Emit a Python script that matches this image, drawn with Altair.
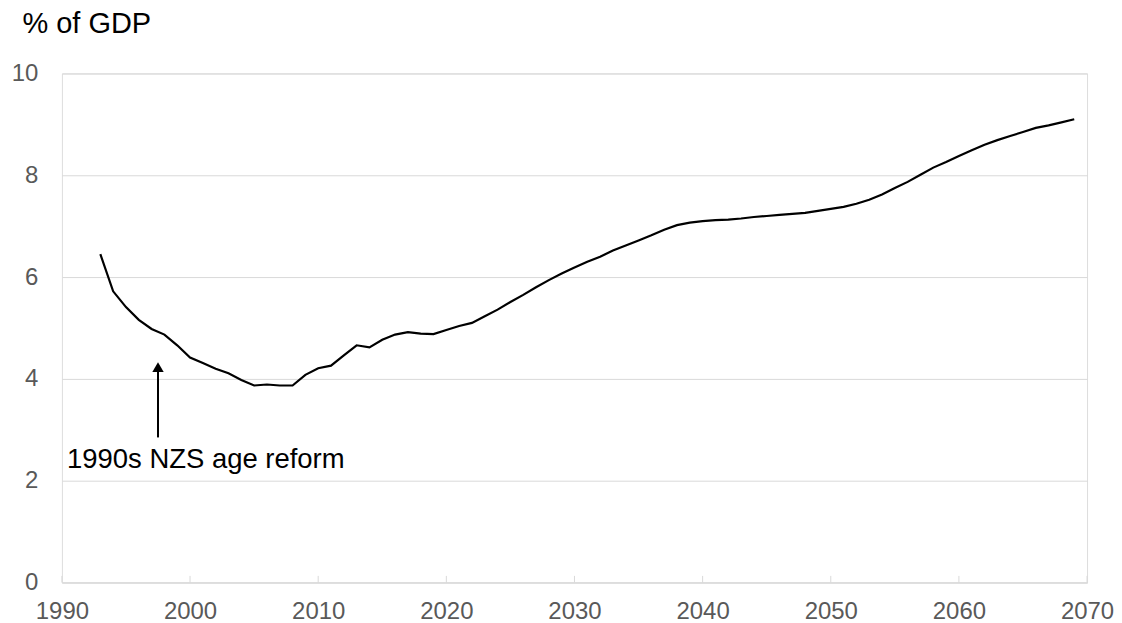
import altair as alt
import pandas as pd

# ---- data ----
years = list(range(1993, 2070))
values = [6.45, 5.72, 5.41, 5.16, 4.98, 4.87, 4.66, 4.42, 4.31, 4.20,
          4.11, 3.98, 3.87, 3.89, 3.87, 3.87, 4.08, 4.21, 4.26, 4.46,
          4.66, 4.62, 4.77, 4.87, 4.92, 4.89, 4.88, 4.96, 5.04, 5.10,
          5.23, 5.36, 5.51, 5.65, 5.80, 5.94, 6.07, 6.19, 6.30, 6.40,
          6.52, 6.62, 6.72, 6.82, 6.93, 7.02, 7.07, 7.10, 7.12, 7.13,
          7.15, 7.18, 7.20, 7.22, 7.24, 7.26, 7.30, 7.34, 7.38, 7.44,
          7.52, 7.62, 7.75, 7.87, 8.01, 8.15, 8.26, 8.38, 8.49, 8.60,
          8.69, 8.77, 8.85, 8.93, 8.98, 9.04, 9.10]
x_ticks = [1990, 2000, 2010, 2020, 2030, 2040, 2050, 2060, 2070]
y_ticks = [0, 2, 4, 6, 8, 10]

annot_text = ["1990s NZS age reform"]
annot_year = [1990.4]
annot_value = [2.24]
arrow_year = [1997.5]
arrow_from = [2.85]
arrow_to = [4.23]

FONT = "Liberation Sans"
GRID = "#d9d9d9"
LABEL = "#595959"

line_df = pd.DataFrame({"year": years, "value": values})
tick_df = pd.DataFrame({"year": x_ticks, "value": [0] * len(x_ticks),
                        "value2": [0.13] * len(x_ticks)})
arrow_df = pd.DataFrame({"year": arrow_year, "value": arrow_from, "value2": arrow_to})
head_df = pd.DataFrame({"year": arrow_year, "value": arrow_to})
text_df = pd.DataFrame({"year": annot_year, "value": annot_value, "label": annot_text})

x_enc = alt.X(
    "year:Q",
    scale=alt.Scale(domain=[1990, 2070], nice=False, zero=False),
    axis=alt.Axis(values=x_ticks, format="d", title=None, grid=False,
                  ticks=False, tickSize=0, domain=True, domainColor=GRID,
                  domainWidth=1, labelPadding=17, labelFontSize=24,
                  labelFont=FONT, labelColor=LABEL, labelFlush=False),
)
y_enc = alt.Y(
    "value:Q",
    scale=alt.Scale(domain=[0, 10], nice=False),
    axis=alt.Axis(values=y_ticks, title="% of GDP", titleAngle=0,
                  titleX=-40, titleY=-41, titleAlign="left",
                  titleBaseline="alphabetic", titleFontSize=29,
                  titleFont=FONT, titleColor="black", titleFontWeight="normal",
                  grid=True, gridColor=GRID, gridWidth=1, domain=False,
                  ticks=False, tickSize=0, labelPadding=24,
                  labelFontSize=24, labelFont=FONT, labelColor=LABEL),
)

ticks = alt.Chart(tick_df).mark_rule(color=GRID, strokeWidth=1).encode(
    x=x_enc, y=y_enc, y2=alt.Y2("value2:Q"))

line = alt.Chart(line_df).mark_line(color="black", strokeWidth=2.2).encode(
    x=x_enc, y=y_enc)

arrow = alt.Chart(arrow_df).mark_rule(color="black", strokeWidth=2).encode(
    x=x_enc, y=y_enc, y2=alt.Y2("value2:Q"))

head = alt.Chart(head_df).mark_point(
    shape="triangle-up", filled=True, color="black", size=130, opacity=1
).encode(x=x_enc, y=y_enc)

text = alt.Chart(text_df).mark_text(
    align="left", baseline="alphabetic", fontSize=27.5, font=FONT, color="black"
).encode(x=x_enc, y=y_enc, text="label:N")

chart = alt.layer(ticks, line, arrow, head, text).properties(
    width=1027, height=510,
    autosize=alt.AutoSizeParams(type="none"),
    padding={"left": 54, "top": 65, "right": 27, "bottom": 40},
).configure_view(stroke=None).configure(background="white")

chart.save("out.html", embed_options={"renderer": "svg", "actions": False})
